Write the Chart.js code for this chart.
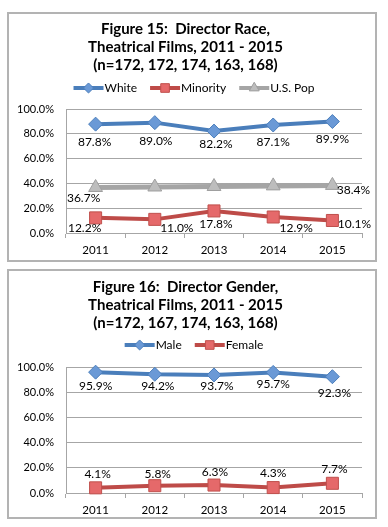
<!DOCTYPE html>
<html>
<head>
<meta charset="utf-8">
<script src="https://cdn.jsdelivr.net/npm/chart.js@4"></script>
<style>
  body { margin: 0; background: #fff; }
  .box { position: absolute; left: 7px; width: 366px; height: 246px; border: 2px solid #b3b3b3; background: #fff; }
  #box1 { top: 12px; }
  #box2 { top: 269px; }
  canvas { display: block; }
</style>
</head>
<body>
<div class="box" id="box1"><canvas id="fig15" width="366" height="246"></canvas></div>
<div class="box" id="box2"><canvas id="fig16" width="366" height="246"></canvas></div>
<script>
// data
var years = ['2011', '2012', '2013', '2014', '2015'];
var whitePct = [87.8, 89.0, 82.2, 87.1, 89.9];
var minorityPct = [12.2, 11.0, 17.8, 12.9, 10.1];
var usPopPct = [36.7, 37.1, 37.5, 38.0, 38.4];
var malePct = [95.9, 94.2, 93.7, 95.7, 92.3];
var femalePct = [4.1, 5.8, 6.3, 4.3, 7.7];
var yTicks = [0, 20, 40, 60, 80, 100];

var title15 = ['Figure 15:  Director Race,', 'Theatrical Films, 2011 - 2015', '(n=172, 172, 174, 163, 168)'];
var title16 = ['Figure 16:  Director Gender,', 'Theatrical Films, 2011 - 2015', '(n=172, 167, 174, 163, 168)'];

var FONT = 'Lato, "Liberation Sans", sans-serif';

// marker looks
var blue = { line: '#4a7ebb', fill: '#6a99d6', edge: '#4a7ebb', style: 'rectRot', r: 7 };
var red = { line: '#be4b48', fill: '#e5696a', edge: '#c0504d', style: 'rect', r: 8.5 };
var gray = { line: '#a5a5a5', fill: '#bdbdbd', edge: '#9f9f9f', style: 'triangle', r: 8 };

function series(name, values, look, width, offsets) {
  return {
    label: name,
    data: values,
    borderColor: look.line,
    borderWidth: width,
    pointStyle: look.style,
    pointRadius: look.r,
    pointHoverRadius: look.r,
    pointBackgroundColor: look.fill,
    pointBorderColor: look.edge,
    pointBorderWidth: 1,
    tension: 0,
    fill: false,
    clip: false,
    look: look,
    labelOffsets: offsets
  };
}

// value labels next to the points
var pointLabels = {
  id: 'pointLabels',
  afterDatasetsDraw: function (chart) {
    var ctx = chart.ctx;
    ctx.save();
    ctx.font = '12px ' + FONT;
    ctx.fillStyle = '#000';
    ctx.textAlign = 'center';
    ctx.textBaseline = 'middle';
    chart.data.datasets.forEach(function (ds, i) {
      var meta = chart.getDatasetMeta(i);
      meta.data.forEach(function (pt, j) {
        var off = ds.labelOffsets[j];
        if (!off) return;
        ctx.fillText(ds.data[j].toFixed(1) + '%', pt.x + off[0], pt.y + off[1]);
      });
    });
    ctx.restore();
  }
};

// excel style legend: line with marker, text right after
var lineLegend = {
  id: 'lineLegend',
  afterDraw: function (chart, args, opts) {
    var ctx = chart.ctx;
    ctx.save();
    ctx.font = '12px ' + FONT;
    var items = chart.data.datasets.map(function (ds) {
      return { text: ds.label, look: ds.look, w: 30 + 1 + ctx.measureText(ds.label).width };
    });
    var total = -13;
    items.forEach(function (it) { total += it.w + 13; });
    var x = opts.centerX - total / 2;
    var y = opts.y;
    items.forEach(function (it) {
      ctx.strokeStyle = it.look.line;
      ctx.lineWidth = 4;
      ctx.beginPath();
      ctx.moveTo(x, y);
      ctx.lineTo(x + 30, y);
      ctx.stroke();
      ctx.fillStyle = it.look.fill;
      ctx.strokeStyle = it.look.edge;
      ctx.lineWidth = 1;
      Chart.helpers.drawPoint(ctx, { pointStyle: it.look.style, radius: it.look.r * 0.72, rotation: 0, borderWidth: 1 }, x + 15, y);
      ctx.fillStyle = '#000';
      ctx.textAlign = 'left';
      ctx.textBaseline = 'middle';
      ctx.fillText(it.text, x + 31, y);
      x += it.w + 13;
    });
    ctx.restore();
  }
};

function makeChart(id, titleLines, datasets, titleTop, titleGap, xHeight) {
  return new Chart(document.getElementById(id), {
    type: 'line',
    data: { labels: years, datasets: datasets },
    plugins: [pointLabels, lineLegend],
    options: {
      responsive: false,
      animation: false,
      layout: { padding: { left: 0, right: 13, top: 0, bottom: 0 } },
      plugins: {
        title: {
          display: true,
          text: titleLines,
          color: '#000',
          font: { family: FONT, size: 15, weight: 'bold', lineHeight: 1.2 },
          padding: { top: titleTop, bottom: titleGap }
        },
        legend: { display: false },
        lineLegend: { centerX: 185, y: 74 },
        tooltip: { enabled: false }
      },
      scales: {
        x: {
          offset: true,
          grid: { display: true, offset: true, drawOnChartArea: false, drawTicks: true, tickLength: 5, color: '#a6a6a6' },
          border: { display: true, color: '#a6a6a6', width: 1 },
          ticks: { color: '#000', padding: 5, font: { family: FONT, size: 11.5 } },
          afterFit: function (s) { s.height = xHeight; }
        },
        y: {
          min: 0,
          max: 100,
          afterBuildTicks: function (s) { s.ticks = yTicks.map(function (v) { return { value: v }; }); },
          grid: { color: '#a6a6a6', drawTicks: false },
          border: { display: true, color: '#a6a6a6', width: 1 },
          ticks: {
            color: '#000',
            padding: 12,
            font: { family: FONT, size: 11 },
            callback: function (v) { return v.toFixed(1) + '%'; }
          },
          afterFit: function (s) { s.width = 57; }
        }
      }
    }
  });
}

makeChart('fig15', title15, [
  series('White', whitePct, blue, 4, [[-1, 18], [1, 18], [2, 13], [0, 17], [0, 18]]),
  series('Minority', minorityPct, red, 4, [[-11, 10], [22, 9], [2, 13], [23, 11], [22, 4]]),
  series('U.S. Pop', usPopPct, gray, 5, [[-12, 11], null, null, null, [21, 5]])
], 6, 35, 27);

makeChart('fig16', title16, [
  series('Male', malePct, blue, 4, [[0, 14], [3, 12], [3, 11], [0, 12], [2, 16]]),
  series('Female', femalePct, red, 4, [[2, -14], [3, -12], [1, -13], [0, -14], [2, -14]])
], 7, 35, 24);
</script>
</body>
</html>
